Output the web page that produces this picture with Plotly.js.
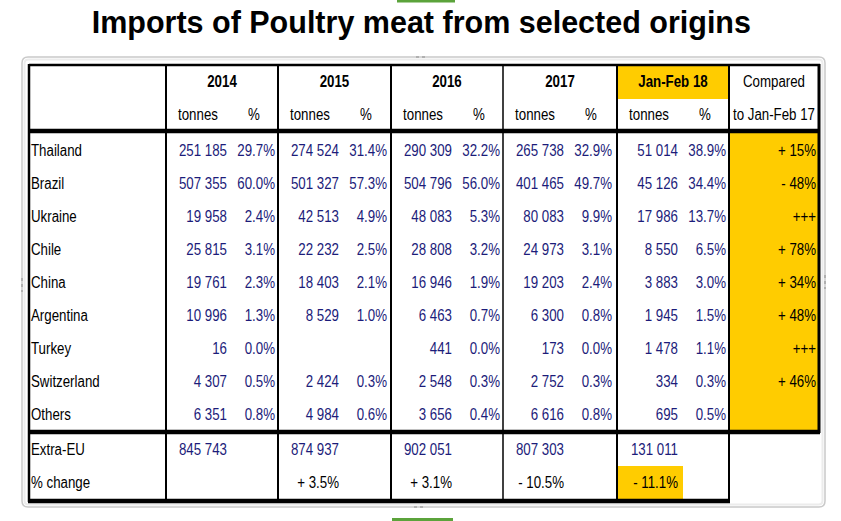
<!DOCTYPE html>
<html>
<head>
<meta charset="utf-8">
<script src="https://cdn.plot.ly/plotly-3.0.1.min.js"></script>
<style>
html,body{margin:0;padding:0;background:#fff;}
#chart{width:841px;height:521px;}
/* the reference uses a condensed face: emulate it by stretching a regular face vertically */
#chart .textpoint text{transform-box:fill-box;transform-origin:50% 50%;transform:scaleY(1.3);}
</style>
</head>
<body>
<div id="chart"></div>
<script>
// ---------------- DATA ----------------
var periods   = ['2014', '2015', '2016', '2017', 'Jan-Feb 18'];
var countries = ['Thailand', 'Brazil', 'Ukraine', 'Chile', 'China', 'Argentina', 'Turkey', 'Switzerland', 'Others'];
var tonnes2014 = [251185, 507355, 19958, 25815, 19761, 10996, 16, 4307, 6351];
var share2014  = [29.7, 60.0, 2.4, 3.1, 2.3, 1.3, 0.0, 0.5, 0.8];
var tonnes2015 = [274524, 501327, 42513, 22232, 18403, 8529, null, 2424, 4984];
var share2015  = [31.4, 57.3, 4.9, 2.5, 2.1, 1.0, null, 0.3, 0.6];
var tonnes2016 = [290309, 504796, 48083, 28808, 16946, 6463, 441, 2548, 3656];
var share2016  = [32.2, 56.0, 5.3, 3.2, 1.9, 0.7, 0.0, 0.3, 0.4];
var tonnes2017 = [265738, 401465, 80083, 24973, 19203, 6300, 173, 2752, 6616];
var share2017  = [32.9, 49.7, 9.9, 3.1, 2.4, 0.8, 0.0, 0.3, 0.8];
var tonnes2018 = [51014, 45126, 17986, 8550, 3883, 1945, 1478, 334, 695];
var share2018  = [38.9, 34.4, 13.7, 6.5, 3.0, 1.5, 1.1, 0.3, 0.5];
var comparedToJanFeb17 = ['+ 15%', '- 48%', '+++', '+ 78%', '+ 34%', '+ 48%', '+++', '+ 46%', ''];
var extraEU   = [845743, 874937, 902051, 807303, 131011];
var pctChange = ['', '+ 3.5%', '+ 3.1%', '- 10.5%', '- 11.1%'];
var subHeaders = ['tonnes', '%'];
var comparedHeader = ['Compared', 'to Jan-Feb 17'];
var totalLabels = ['Extra-EU', '% change'];

// ---------------- LAYOUT GEOMETRY (pixels) ----------------
var W = 841, H = 521;
var colB = [29, 166, 278, 391, 503, 617, 729, 819];
var yHead1 = 82, yHead2 = 115;
var yRow0 = 151, rowStep = 33;
var yTot = [450, 483];
var tonOff = 61, pctOff = 109;
var NAVY = '#1c1c7a', YEL = '#ffcc00';
var FONT = '"Liberation Sans", Arial, sans-serif';
var FS = 13.3;

function fmt(n) {
  if (n === null || n === undefined) return '';
  return String(n).replace(/\B(?=(\d{3})+(?!\d))/g, ' ');
}
function pct(p) {
  if (p === null || p === undefined) return '';
  return p.toFixed(1) + '%';
}
var rowY = countries.map(function (c, i) { return yRow0 + i * rowStep; });

var traces = [];
function txt(xs, ys, texts, pos, color, bold) {
  traces.push({
    type: 'scatter', mode: 'text', x: xs, y: ys, text: texts,
    textposition: pos, cliponaxis: false, hoverinfo: 'skip', showlegend: false,
    textfont: {family: FONT, size: FS, color: color, weight: bold ? 700 : 400}
  });
}
function rep(v, n) { var a = []; for (var i = 0; i < n; i++) a.push(v); return a; }

// row labels
txt(rep(colB[0] + 2, countries.length), rowY, countries, 'middle right', '#000');
txt(rep(colB[0] + 2, 2), yTot, totalLabels, 'middle right', '#000');

var allT = [tonnes2014, tonnes2015, tonnes2016, tonnes2017, tonnes2018];
var allP = [share2014, share2015, share2016, share2017, share2018];
periods.forEach(function (p, k) {
  var L = colB[k + 1], R = colB[k + 2];
  txt([(L + R) / 2], [yHead1], [p], 'middle center', '#000', true);
  txt([L + 32, L + 88], [yHead2, yHead2], subHeaders, 'middle center', '#000');
  txt(rep(L + tonOff, countries.length), rowY, allT[k].map(fmt), 'middle left', NAVY);
  txt(rep(L + pctOff, countries.length), rowY, allP[k].map(pct), 'middle left', NAVY);
  txt([L + tonOff], [yTot[0]], [fmt(extraEU[k])], 'middle left', NAVY);
  txt([L + tonOff], [yTot[1]], [pctChange[k]], 'middle left', '#000');
});
// compared column
var cL = colB[6], cR = colB[7];
txt([(cL + cR) / 2, (cL + cR) / 2], [yHead1, yHead2], comparedHeader, 'middle center', '#000');
txt(rep(cR - 3, countries.length), rowY, comparedToJanFeb17, 'middle left', '#000');

// ---------------- SHAPES ----------------
var shapes = [];
function rect(x0, y0, x1, y1, fill) {
  shapes.push({type: 'rect', xref: 'x', yref: 'y', x0: x0, y0: y0, x1: x1, y1: y1,
    fillcolor: fill, line: {width: 0}, layer: 'below'});
}
function line(x0, y0, x1, y1, w, c, dash) {
  shapes.push({type: 'line', xref: 'x', yref: 'y', x0: x0, y0: y0, x1: x1, y1: y1,
    line: {color: c || '#000', width: w, dash: dash || 'solid'}});
}
function rrect(x0, y0, x1, y1, r, c, w) {
  var p = 'M' + (x0 + r) + ',' + y0 + ' L' + (x1 - r) + ',' + y0 + ' Q' + x1 + ',' + y0 + ' ' + x1 + ',' + (y0 + r) +
    ' L' + x1 + ',' + (y1 - r) + ' Q' + x1 + ',' + y1 + ' ' + (x1 - r) + ',' + y1 +
    ' L' + (x0 + r) + ',' + y1 + ' Q' + x0 + ',' + y1 + ' ' + x0 + ',' + (y1 - r) +
    ' L' + x0 + ',' + (y0 + r) + ' Q' + x0 + ',' + y0 + ' ' + (x0 + r) + ',' + y0 + ' Z';
  shapes.push({type: 'path', xref: 'x', yref: 'y', path: p, line: {color: c, width: w}, layer: 'below'});
}
// outer frame
rrect(22, 57, 825, 507, 6, '#c9c9c9', 1.5);
rrect(24.5, 59.5, 822.5, 504.5, 4, '#ececec', 2);
// handles
line(416, 57, 428, 57, 2, '#b0b0b0', 'dot');
line(414, 507, 426, 507, 2, '#b0b0b0', 'dot');
line(825, 275, 825, 289, 2, '#b0b0b0', 'dot');
line(22, 278, 22, 292, 2, '#b0b0b0', 'dot');
// green bars
rect(397, 0, 455, 2.5, '#5ba33b');
rect(392, 518, 453, 521, '#5ba33b');
// yellow fills
rect(colB[5], 65, colB[6], 99, YEL);
rect(colB[6], 131, colB[7], 432, YEL);
rect(colB[5], 466, 683, 500, YEL);
// borders
line(colB[0], 65, colB[7] + 1, 65, 2.5);
line(colB[0], 64, colB[0], 502, 2.5);
line(colB[7], 64, colB[7], 433, 3);
for (var i = 1; i <= 6; i++) line(colB[i], 65, colB[i], 502, i === 4 ? 1.5 : 2);
line(colB[0], 131, colB[7] + 1, 131, 4.5);
line(colB[0], 432, colB[7] + 1, 432, 4.5);
line(colB[0] - 1, 501, colB[6] + 1, 501, 4.5);

var layout = {
  width: W, height: H,
  margin: {l: 0, r: 0, t: 0, b: 0, pad: 0},
  paper_bgcolor: '#fff', plot_bgcolor: '#fff',
  title: {
    text: 'Imports of Poultry meat from selected origins',
    font: {family: '"Liberation Sans", Arial, sans-serif', size: 30.5, color: '#000', weight: 700},
    x: 0.501, xanchor: 'center', y: 1 - 22 / H, yanchor: 'middle'
  },
  xaxis: {range: [0, W], visible: false, fixedrange: true},
  yaxis: {range: [H, 0], visible: false, fixedrange: true},
  shapes: shapes,
  showlegend: false
};
Plotly.newPlot('chart', traces, layout, {displayModeBar: false, staticPlot: true});
</script>
</body>
</html>
